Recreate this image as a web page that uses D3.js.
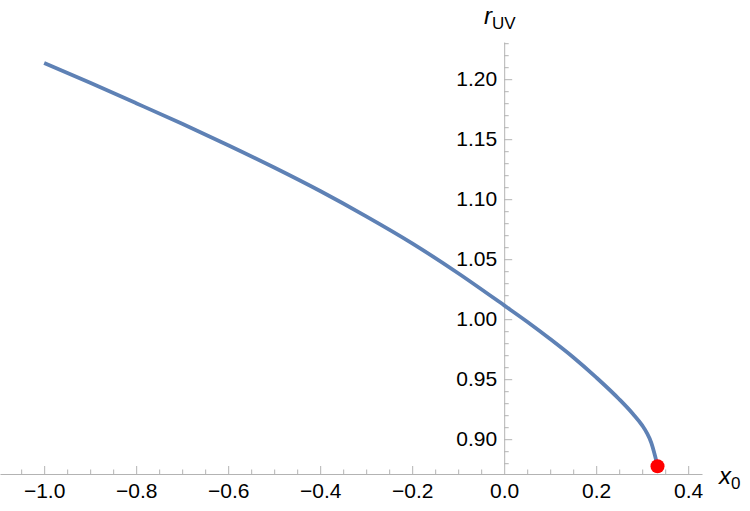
<!DOCTYPE html>
<html>
<head>
<meta charset="utf-8">
<script src="https://cdn.jsdelivr.net/npm/d3@7"></script>
<style>
  body { margin: 0; background: #fff; }
  text { font-family: "Liberation Sans", Helvetica, Arial, sans-serif; }
</style>
</head>
<body>
<div class="chart"></div>
<script>
// values
const x0 = [-1.0, -0.9, -0.8, -0.7, -0.6, -0.5, -0.4, -0.3, -0.2, -0.1, 0.0, 0.05, 0.1, 0.15, 0.2, 0.25, 0.28, 0.3, 0.31, 0.32, 0.328, 0.3333];
const rUV = [1.2136, 1.1970, 1.1800, 1.1628, 1.1450, 1.1264, 1.1068, 1.0857, 1.0632, 1.0383, 1.0115, 0.9979, 0.9835, 0.9683, 0.9515, 0.9333, 0.9210, 0.9115, 0.9053, 0.8968, 0.8860, 0.8775];
const endPoint = [0.3333, 0.8775];

const xMajor = [-1.0, -0.8, -0.6, -0.4, -0.2, 0.0, 0.2, 0.4];
const yMajor = [0.90, 0.95, 1.00, 1.05, 1.10, 1.15, 1.20];
const xDomain = [-1.096, 0.43];
const yDomain = [0.871, 1.231];

const width = 750, height = 511;
const axisColor = '#b3b3b3';

const x = d3.scaleLinear().domain(xDomain).range([0, 702]);
const y = d3.scaleLinear().domain(yDomain).range([474, 42]);

const svg = d3.select('.chart')
  .append('svg')
  .attr('width', width)
  .attr('height', height);

const xMinor = d3.range(-1.05, 0.41, 0.05).filter(v => !xMajor.some(m => Math.abs(m - v) < 1e-6));
const yMinor = d3.range(0.88, 1.235, 0.01).filter(v => !yMajor.some(m => Math.abs(m - v) < 1e-6));

// x axis
const xAxisG = svg.append('g')
  .attr('transform', 'translate(0,' + y(yDomain[0]) + ')')
  .call(d3.axisBottom(x).tickValues(xMajor).tickSizeInner(-8).tickSizeOuter(0).tickPadding(9)
    .tickFormat(d3.format('.1f')));
svg.append('g')
  .attr('transform', 'translate(0,' + y(yDomain[0]) + ')')
  .call(d3.axisBottom(x).tickValues(xMinor).tickSizeInner(-4.5).tickSizeOuter(0).tickFormat(''))
  .call(g => g.select('.domain').remove());

// y axis
svg.append('g')
  .attr('transform', 'translate(' + x(0) + ',0)')
  .call(d3.axisLeft(y).tickValues(yMajor).tickSizeInner(-8).tickSizeOuter(0).tickPadding(7)
    .tickFormat(d3.format('.2f')));
svg.append('g')
  .attr('transform', 'translate(' + x(0) + ',0)')
  .call(d3.axisLeft(y).tickValues(yMinor).tickSizeInner(-4.5).tickSizeOuter(0).tickFormat(''))
  .call(g => g.select('.domain').remove());

svg.selectAll('.domain, .tick line')
  .attr('stroke', axisColor)
  .attr('stroke-width', 1);

svg.selectAll('.tick text')
  .attr('fill', '#000')
  .attr('font-size', 21);

// the 0.0 tick sits on the y axis
xAxisG.selectAll('.tick line').filter(d => d === 0).remove();

// curve
const line = d3.line()
  .x((d, i) => x(x0[i]))
  .y((d, i) => y(rUV[i]))
  .curve(d3.curveMonotoneX);

svg.append('path')
  .datum(x0)
  .attr('d', line)
  .attr('fill', 'none')
  .attr('stroke', '#5e81b5')
  .attr('stroke-width', 3.8);

svg.append('circle')
  .attr('cx', x(endPoint[0]))
  .attr('cy', y(endPoint[1]))
  .attr('r', 7)
  .attr('fill', '#ff0000');

// axis labels
const yLab = svg.append('text')
  .attr('x', 484)
  .attr('y', 24)
  .attr('font-size', 24);
yLab.append('tspan').attr('font-style', 'italic').text('r');
yLab.append('tspan').attr('font-size', 17).attr('dy', 5).text('UV');

const xLab = svg.append('text')
  .attr('x', 719)
  .attr('y', 484)
  .attr('font-size', 24);
xLab.append('tspan').attr('font-style', 'italic').text('x');
xLab.append('tspan').attr('font-size', 17).attr('dy', 5).text('0');
</script>
</body>
</html>
